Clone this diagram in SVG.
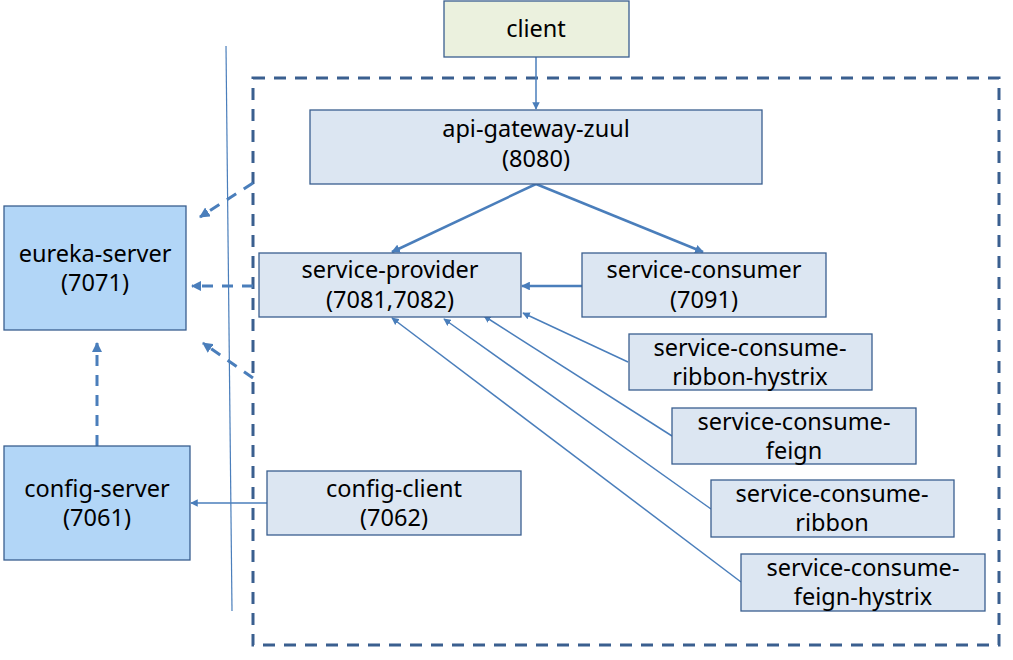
<svg xmlns="http://www.w3.org/2000/svg" width="1013" height="660" viewBox="0 0 1013 660">
<style>
.box{fill:#dce6f2;stroke:#3a5f8f;stroke-width:1.3}
.srv{fill:#b2d6f7;stroke:#3a5f8f;stroke-width:1.3}
.cli{fill:#ebf1de;stroke:#3a5f8f;stroke-width:1.3}
text{font-family:"Noto Sans","Open Sans","DejaVu Sans",sans-serif;font-size:23.5px;fill:#000;text-anchor:middle}
.ln{stroke:#4a7ebb;fill:none}
</style>
<defs>
<marker id="ah" viewBox="0 0 10 10" refX="9" refY="5" markerWidth="5" markerHeight="5" orient="auto" markerUnits="strokeWidth">
<path d="M0,0 L10,5 L0,10 z" fill="#4a7ebb"/>
</marker>
<marker id="ahs" viewBox="0 0 10 10" refX="9" refY="5" markerWidth="3.5" markerHeight="3.5" orient="auto" markerUnits="strokeWidth">
<path d="M0,0 L10,5 L0,10 z" fill="#4a7ebb"/>
</marker>
</defs>
<rect x="253" y="78" width="746" height="567" fill="none" stroke="#3a5f8f" stroke-width="3" stroke-dasharray="12 9"/>
<line x1="226" y1="46" x2="232" y2="611" stroke="#4a7ebb" stroke-width="1.2"/>
<g id="connectors">
<line class="ln" x1="536" y1="57" x2="536" y2="109" stroke-width="1.5" marker-end="url(#ah)"/>
<line class="ln" x1="536" y1="184" x2="392" y2="252" stroke-width="2.5" marker-end="url(#ahs)"/>
<line class="ln" x1="536" y1="184" x2="703" y2="252" stroke-width="2.5" marker-end="url(#ahs)"/>
<line class="ln" x1="582" y1="286" x2="522" y2="286" stroke-width="2.5" marker-end="url(#ahs)"/>
<line class="ln" x1="628" y1="362" x2="523" y2="313" stroke-width="1.5" marker-end="url(#ah)"/>
<line class="ln" x1="672" y1="436" x2="484" y2="316" stroke-width="1.5" marker-end="url(#ah)"/>
<line class="ln" x1="711" y1="509" x2="444" y2="319" stroke-width="1.5" marker-end="url(#ah)"/>
<line class="ln" x1="741" y1="582" x2="392" y2="318" stroke-width="1.5" marker-end="url(#ah)"/>
<line class="ln" x1="267" y1="503" x2="191" y2="503" stroke-width="1.5" marker-end="url(#ah)"/>
<line class="ln" x1="97" y1="446" x2="97" y2="343" stroke-width="3" stroke-dasharray="11 9" marker-end="url(#ahs)"/>
<line class="ln" x1="253" y1="286" x2="192" y2="286" stroke-width="3" stroke-dasharray="11 9" marker-end="url(#ahs)"/>
<line class="ln" x1="253" y1="183" x2="200" y2="217" stroke-width="3" stroke-dasharray="11 9" marker-end="url(#ahs)"/>
<line class="ln" x1="253" y1="378" x2="203" y2="343" stroke-width="3" stroke-dasharray="11 9" marker-end="url(#ahs)"/>
</g>
<g id="client"><rect class="cli" x="444" y="1" width="185" height="56"/><text x="536" y="37">client</text></g>
<g id="api-gateway"><rect class="box" x="310" y="110" width="452" height="74"/><text x="536" y="137">api-gateway-zuul<tspan x="536" dy="29.5">(8080)</tspan></text></g>
<g id="eureka-server"><rect class="srv" x="4" y="206" width="182" height="124"/><text x="95" y="262">eureka-server<tspan x="95" dy="29">(7071)</tspan></text></g>
<g id="service-provider"><rect class="box" x="259" y="253" width="262" height="64"/><text x="390" y="278">service-provider<tspan x="390" dy="29.5">(7081,7082)</tspan></text></g>
<g id="service-consumer"><rect class="box" x="582" y="253" width="244" height="64"/><text x="704" y="278">service-consumer<tspan x="704" dy="29.5">(7091)</tspan></text></g>
<g id="ribbon-hystrix"><rect class="box" x="629" y="334" width="243" height="56"/><text x="750" y="355.5">service-consume-<tspan x="750" dy="29">ribbon-hystrix</tspan></text></g>
<g id="feign"><rect class="box" x="672" y="408" width="244" height="56"/><text x="794" y="429.5">service-consume-<tspan x="794" dy="29">feign</tspan></text></g>
<g id="ribbon"><rect class="box" x="711" y="480" width="243" height="57"/><text x="832" y="502">service-consume-<tspan x="832" dy="29">ribbon</tspan></text></g>
<g id="feign-hystrix"><rect class="box" x="741" y="554" width="244" height="57"/><text x="863" y="576">service-consume-<tspan x="863" dy="29">feign-hystrix</tspan></text></g>
<g id="config-server"><rect class="srv" x="4" y="446" width="186" height="114"/><text x="97" y="497">config-server<tspan x="97" dy="29">(7061)</tspan></text></g>
<g id="config-client"><rect class="box" x="267" y="471" width="254" height="64"/><text x="394" y="497">config-client<tspan x="394" dy="29">(7062)</tspan></text></g>
</svg>
